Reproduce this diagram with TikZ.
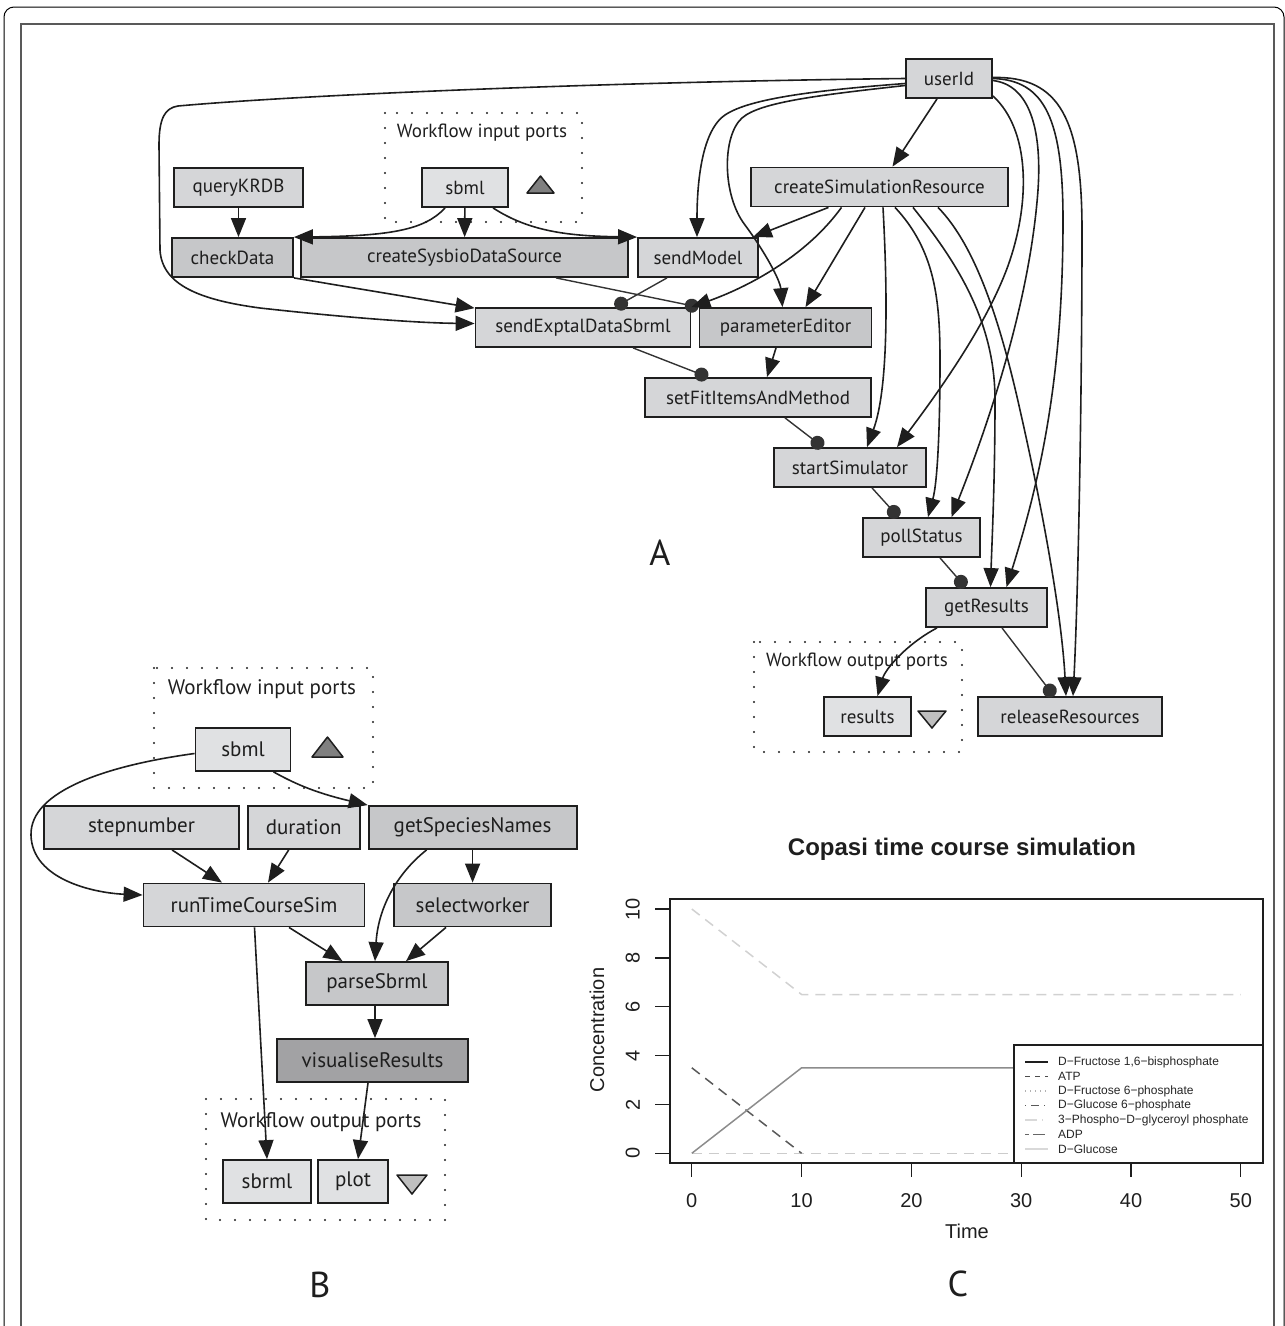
\documentclass[tikz,border=0pt]{standalone}
\usepackage{fontspec}
\setmainfont{PT Sans}
\newfontfamily\rfont{Liberation Sans}
\usetikzlibrary{arrows.meta,calc}
\definecolor{nfill}{HTML}{D5D6D8}
\definecolor{pfill}{HTML}{E0E1E3}
\definecolor{dfill}{HTML}{C6C7C9}
\definecolor{vfill}{HTML}{A2A2A4}
\definecolor{ink}{HTML}{1E1E1E}
\definecolor{dotc}{HTML}{333333}
\begin{document}
\begin{tikzpicture}[x=1pt,y=-1pt,
  box/.style={draw=ink, line width=1.8pt, fill=nfill, inner sep=0pt, text=ink},
  pbox/.style={box, fill=pfill},
  dbox/.style={box, fill=dfill},
  fa/.style={font=\fontsize{19}{23}\selectfont},
  fb/.style={font=\fontsize{21}{25}\selectfont},
  ha/.style={minimum height=39pt},
  hb/.style={minimum height=43pt},
  arr/.style={draw=ink, line width=1.6pt, -{Triangle[length=19pt,width=15pt]}},
  ctl/.style={draw=dotc, line width=1.4pt, -{Circle[length=14pt]}},
  dotbox/.style={draw=ink, line width=2.2pt, dash pattern=on 0pt off 15pt, line cap=round},
  tri/.style={draw=ink, line width=1.5pt, line join=round},
  lab/.style={text=ink},
  big/.style={font=\fontsize{36}{40}\selectfont, text=ink},
  rt/.style={font=\rfont\fontsize{20}{24}\selectfont, text=ink}
]
\useasboundingbox (0,0) rectangle (1285,1326);
\clip (0,0) rectangle (1285,1326);
% frame
\draw[line width=1pt, rounded corners=10pt] (4,1400) -- (4,7) -- (1284,7) -- (1284,1400);
\draw[line width=2pt, draw=black!65] (21,1400) -- (21,24) -- (1274,24) -- (1274,1400);

% ===== Panel A =====
\draw[dotbox] (385,113) rectangle (582,222);
\node[lab, fa] (inA) at (482,133) {Workflow input ports};
\draw[tri, fill=black!50] (527,193) -- (554,193) -- (540.5,176) -- cycle;
\draw[dotbox] (754,642) rectangle (962,752);
\node[lab, fa] (outA) at (857,662) {Workflow output ports};
\draw[tri, fill=black!25] (918,711) -- (946,711) -- (932,728) -- cycle;

\node[box, fa, ha, minimum width=86pt] (userId) at (949,78.5) {userId};
\node[box, fa, ha, minimum width=257pt] (csr) at (879.5,187) {createSimulationResource};
\node[box, fa, ha, minimum width=129pt] (qk) at (238.5,187.5) {queryKRDB};
\node[pbox, fa, ha, minimum width=86pt] (sbmlA) at (465,187.5) {sbml};
\node[dbox, fa, ha, minimum width=121pt] (cd) at (232.5,257.5) {checkData};
\node[dbox, fa, ha, minimum width=327pt] (csds) at (464.5,257.5) {createSysbioDataSource};
\node[box, fa, ha, minimum width=120pt] (sm) at (698,257.5) {sendModel};
\node[box, fa, ha, minimum width=215pt] (sed) at (583,327.5) {sendExptalDataSbrml};
\node[dbox, fa, ha, minimum width=172pt] (pe) at (785.5,327.5) {parameterEditor};
\node[box, fa, ha, minimum width=226pt] (sf) at (758,397.5) {setFitItemsAndMethod};
\node[box, fa, ha, minimum width=152pt] (ss) at (850,467.5) {startSimulator};
\node[box, fa, ha, minimum width=117pt] (ps) at (921.5,537.5) {pollStatus};
\node[box, fa, ha, minimum width=121pt] (gr) at (986.5,607.5) {getResults};
\node[pbox, fa, ha, minimum width=87pt] (res) at (867.5,716.5) {results};
\node[box, fa, ha, minimum width=184pt] (rr) at (1070,716.5) {releaseResources};
\node[big] (labA) at (660,553) {A};

% edges A
\draw[arr] (qk.south) -- (qk.south |- cd.north);
\draw[arr] ([xshift=-20pt]sbmlA.south) .. controls (425,230) and (390,236) .. (cd.north east);
\draw[arr] (sbmlA) -- (csds);
\draw[arr] ([xshift=28pt]sbmlA.south) .. controls (530,232) and (570,236) .. (sm.north west);
\draw[arr] ([xshift=-12pt]userId.south) -- ([xshift=13pt]csr.north);
\draw[arr] ([yshift=-5pt]userId.west) .. controls (820,90) and (750,98) .. (725,115) .. controls (700,132) and (697,190) .. ([xshift=-1pt]sm.north);
\draw[arr] ([yshift=-7pt]userId.west) .. controls (820,95) and (760,102) .. (742,118) .. controls (722,136) and (722,195) .. (745,225) .. controls (765,252) and (780,280) .. ([xshift=-3pt]pe.north);
\draw[arr] (userId.west) .. controls (600,82) and (300,95) .. (178,106) .. controls (165,108) and (159,118) .. (159,145) -- (160,250) .. controls (162,285) and (200,300) .. (260,308) .. controls (350,318) and (420,323) .. ([yshift=4pt]sed.west);
\draw[arr] (cd.south east) -- ([yshift=-1pt]sed.north west);
\draw[ctl] ([xshift=-73pt]csds.south east) -- (pe.north west);
\draw[ctl] ([xshift=-31pt]sm.south) -- ([xshift=32pt]sed.north);
\draw[arr] ([xshift=-51pt]csr.south) -- ([xshift=-6pt]sm.north east);
\draw[arr] ([xshift=-38pt]csr.south) .. controls (805,258) and (745,288) .. (sed.north east);
\draw[arr] ([xshift=-14.5pt]csr.south) -- ([xshift=20pt]pe.north);
\draw[arr] ([xshift=-9.5pt]pe.south) -- ([xshift=9pt]sf.north);
\draw[ctl] ([xshift=50pt]sed.south) -- ([xshift=-50pt]sf.north);
\draw[ctl] ([xshift=27pt]sf.south) -- ([xshift=-27pt]ss.north);
\draw[ctl] ([xshift=22pt]ss.south) -- ([xshift=-23pt]ps.north);
\draw[ctl] ([xshift=18.5pt]ps.south) -- ([xshift=-21pt]gr.north);
\draw[arr] ([xshift=-49.5pt]gr.south) .. controls (905,645) and (885,670) .. ([xshift=10pt]res.north);
\draw[ctl] ([xshift=15.5pt]gr.south) -- ([xshift=-16pt]rr.north);
\draw[arr] ([xshift=3.5pt]csr.south) .. controls (888,300) and (888,390) .. ([xshift=17pt]ss.north);
\draw[arr] ([yshift=3pt]userId.south east) .. controls (1030,130) and (1030,200) .. (1010,260) .. controls (990,320) and (940,390) .. ([xshift=47pt]ss.north);
\draw[arr] ([xshift=15.5pt]csr.south) .. controls (935,250) and (940,300) .. (940,360) .. controls (940,420) and (938,480) .. ([xshift=6.5pt]ps.north);
\draw[arr] ([yshift=-2pt]userId.east) .. controls (1030,85) and (1042,130) .. (1038,190) .. controls (1030,300) and (990,420) .. ([xshift=30pt]ps.north);
\draw[arr] ([xshift=33.5pt]csr.south) .. controls (955,260) and (995,320) .. (995,400) .. controls (995,480) and (992,540) .. ([xshift=4pt]gr.north);
\draw[arr] (userId.east) .. controls (1045,80) and (1063,120) .. (1063,220) .. controls (1063,380) and (1040,480) .. ([xshift=20pt]gr.north);
\draw[arr] ([xshift=58.5pt]csr.south) .. controls (975,245) and (1000,320) .. (1020,410) .. controls (1045,520) and (1062,620) .. ([xshift=-4pt]rr.north);
\draw[arr] ([yshift=1pt]userId.east) .. controls (1060,76) and (1082,120) .. (1082,230) .. controls (1082,400) and (1078,600) .. ([xshift=3pt]rr.north);

% ===== Panel B =====
\draw[dotbox] (154,668) rectangle (373,788);
\node[lab, fb] (inB) at (262,689) {Workflow input ports};
\draw[tri, fill=black!50] (312,757) -- (343,757) -- (327.5,737) -- cycle;
\draw[dotbox] (206,1099) rectangle (445,1220);
\node[lab, fb] (outB) at (321,1122) {Workflow output ports};
\draw[tri, fill=black!25] (397,1175) -- (427,1175) -- (412,1194) -- cycle;

\node[pbox, fb, hb, minimum width=95pt] (sbmlB) at (243,749.5) {sbml};
\node[box, fb, hb, minimum width=195pt] (sn) at (141.5,827.5) {stepnumber};
\node[box, fb, hb, minimum width=112pt] (du) at (303.7,827.5) {duration};
\node[dbox, fb, hb, minimum width=208pt] (gsn) at (472.6,827.5) {getSpeciesNames};
\node[box, fb, hb, minimum width=221pt] (rtc) at (254,905) {runTimeCourseSim};
\node[dbox, fb, hb, minimum width=157pt] (sw) at (472.6,905) {selectworker};
\node[dbox, fb, hb, minimum width=142pt] (psb) at (377,983.5) {parseSbrml};
\node[box, fb, hb, minimum width=191pt, fill=vfill] (vr) at (372.5,1060.5) {visualiseResults};
\node[pbox, fb, hb, minimum width=88pt] (sbrml) at (267,1181.5) {sbrml};
\node[pbox, fb, hb, minimum width=70pt] (plot) at (353,1181.5) {plot};
\node[big] (labB) at (320,1285) {B};

\draw[arr] ([yshift=-4pt]sbmlB.west) .. controls (110,765) and (30,790) .. (31,835) .. controls (32,880) and (95,893) .. ([yshift=10pt]rtc.west);
\draw[arr] ([xshift=30.5pt]sbmlB.south) .. controls (292,782) and (312,792) .. (gsn.north west);
\draw[arr] ([xshift=30.5pt]sn.south) -- ([xshift=-32pt]rtc.north);
\draw[arr] ([xshift=-15pt]du.south) -- ([xshift=14pt]rtc.north);
\draw[arr] (gsn) -- (sw);
\draw[arr] ([xshift=-46pt]gsn.south) .. controls (395,875) and (378,910) .. ([xshift=-2pt]psb.north);
\draw[arr] ([xshift=35pt]rtc.south) -- ([xshift=-34.5pt]psb.north);
\draw[arr] ([xshift=-26.6pt]sw.south) -- ([xshift=29pt]psb.north);
\draw[arr] ([xshift=0.5pt]rtc.south) -- (sbrml.north);
\draw[arr] ([xshift=-2pt]psb.south) -- ([xshift=2.5pt]vr.north);
\draw[arr] ([xshift=-4.5pt]vr.south) -- ([xshift=5pt]plot.north);

% ===== Panel C =====
\node[font=\rfont\bfseries\fontsize{24}{28}\selectfont, text=ink] (title) at (962,849) {Copasi time course simulation};
\begin{scope}[shift={(691.8,1153.3)}, x=10.98pt, y=24.43pt]
  \draw[line width=1.5pt, draw=black!18, dash pattern=on 10pt off 7pt] (0,10) -- (10,6.5) -- (50,6.5);
  \draw[line width=1.5pt, draw=black!20, dash pattern=on 10pt off 7pt] (0,0) -- (50,0);
  \draw[line width=1.5pt, draw=black!65, dash pattern=on 10pt off 7pt] (0,3.5) -- (10,0);
  \draw[line width=1.5pt, draw=black!45] (0,0) -- (10,3.5) -- (50,3.5);
  \draw[line width=1.5pt, draw=ink] (-2,-0.4) rectangle (52,10.4);
  \foreach \t in {0,10,...,50} {
    \draw[line width=1.3pt, draw=ink] (\t,-0.4) -- ++(0pt,-14pt);
    \path (\t,-0.4) ++(0pt,-38pt) node[rt] {\t};
  }
  \foreach \c in {0,2,...,10} {
    \draw[line width=1.3pt, draw=ink] (-2,\c) -- ++(-15pt,0pt);
    \path (-2,\c) ++(-37pt,0pt) node[rt, rotate=90] {\c};
  }
\end{scope}
\node[rt] (xl) at (967,1231) {Time};
\node[rt, rotate=90] (yl) at (597,1030) {Concentration};
% legend
\draw[line width=1.5pt, draw=ink, fill=white] (1014,1045) rectangle (1263,1163);
\begin{scope}[every node/.style={anchor=west, inner sep=0pt, font=\rfont\fontsize{12}{14}\selectfont, text=black!85}]
  \draw[line width=1.4pt, draw=ink] (1025,1062) -- (1048,1062);
  \node at (1058,1062) {D−Fructose 1,6−bisphosphate};
  \draw[line width=1.4pt, draw=black!70, dash pattern=on 5pt off 5pt] (1025,1076.5) -- (1048,1076.5);
  \node at (1058,1076.5) {ATP};
  \draw[line width=1.4pt, draw=black!30, dash pattern=on 1pt off 4pt] (1025,1091) -- (1048,1091);
  \node at (1058,1091) {D−Fructose 6−phosphate};
  \draw[line width=1.4pt, draw=black!65, dash pattern=on 1pt off 5pt on 8pt off 5pt] (1025,1105.5) -- (1048,1105.5);
  \node at (1058,1105.5) {D−Glucose 6−phosphate};
  \draw[line width=1.4pt, draw=black!15, dash pattern=on 12pt off 5pt on 1pt off 5pt] (1025,1120) -- (1048,1120);
  \node at (1058,1120) {3−Phospho−D−glyceroyl phosphate};
  \draw[line width=1.4pt, draw=black!60, dash pattern=on 4pt off 4pt on 12pt off 4pt] (1025,1134.5) -- (1048,1134.5);
  \node at (1058,1134.5) {ADP};
  \draw[line width=1.4pt, draw=black!15] (1025,1149) -- (1048,1149);
  \node at (1058,1149) {D−Glucose};
\end{scope}
\node[big] (labC) at (958,1284) {C};
\end{tikzpicture}
\end{document}
